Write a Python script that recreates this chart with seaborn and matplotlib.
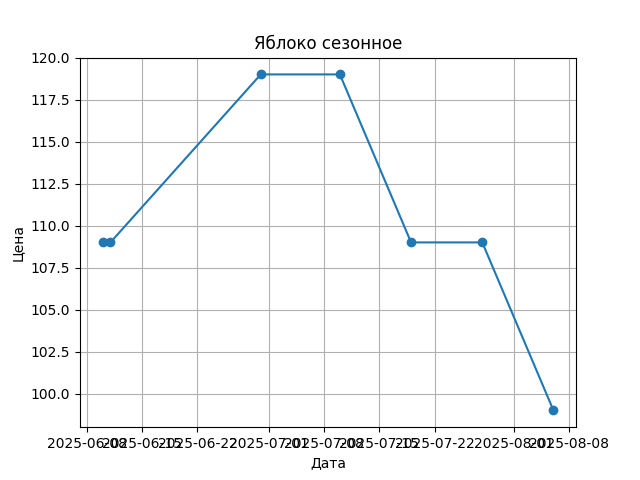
import pandas as pd
import matplotlib
matplotlib.use('Agg')
import matplotlib.pyplot as plt
import seaborn as sns

# Данные: цена сезонного яблока по датам
dates = ['2025-06-10', '2025-06-11', '2025-06-30', '2025-07-10',
         '2025-07-19', '2025-07-28', '2025-08-06']
prices = [109, 109, 119, 119, 109, 109, 99]

df = pd.DataFrame({'Дата': pd.to_datetime(dates), 'Цена': prices})

fig, ax = plt.subplots(figsize=(6.4, 4.8), dpi=100)
sns.lineplot(data=df, x='Дата', y='Цена', marker='o', markersize=6,
             markeredgecolor='C0', markeredgewidth=1.0, color='C0', ax=ax)
ax.set_title('Яблоко сезонное')
ax.set_xlabel('Дата')
ax.set_ylabel('Цена')
ax.grid(True)

# подписи дат налезают друг на друга, как и в оригинале
fig.savefig('out.png', dpi=100)
